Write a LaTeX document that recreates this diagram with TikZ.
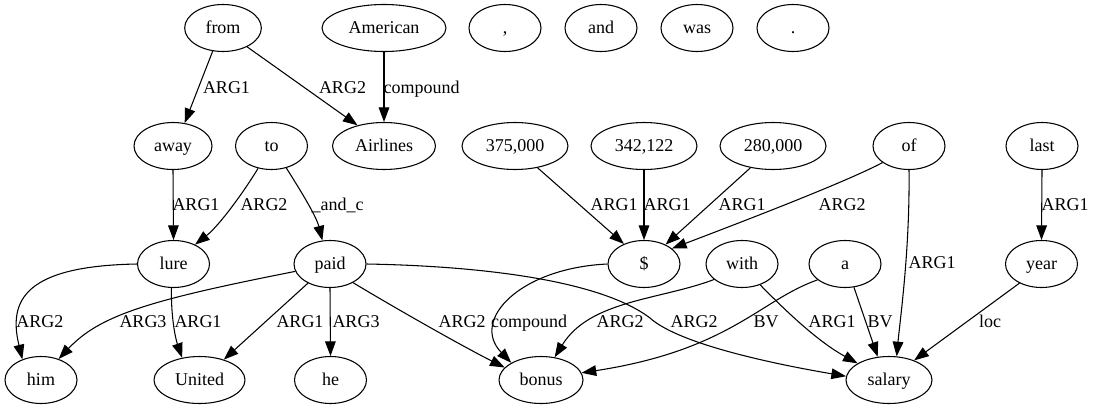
\documentclass[tikz,border=0pt]{standalone}
\usepackage{fontspec}
\setmainfont{Liberation Serif}
\newfontfamily\gvserif{Liberation Serif}
\usetikzlibrary{arrows.meta,shapes.geometric}
\begin{document}
\begin{tikzpicture}[x=0.75pt,y=-0.75pt,
  nd/.style={draw, ellipse, line width=0.8pt, inner sep=0pt, minimum height=35.25pt, minimum width=54pt,
    font=\gvserif\fontsize{13.5}{16}\selectfont, text height=11pt, text depth=3pt},
  lbl/.style={inner sep=0pt, font=\gvserif\fontsize{13.5}{16}\selectfont, text height=11pt, text depth=3pt},
  edge/.style={draw, line width=0.8pt, -{Triangle[length=11pt,width=8pt]}}
]
\useasboundingbox (0,0) rectangle (1095,411);
% row 1
\node[nd, minimum width=57.5pt] (from) at (223,28) {from};
\node[nd, minimum width=93pt] (American) at (384,28) {American};
\node[nd] (comma) at (505,28) {,};
\node[nd] (and) at (601,28) {and};
\node[nd] (was) at (697,28) {was};
\node[nd] (period) at (793,28) {.};
% row 2
\node[nd, minimum width=58.5pt] (away) at (173,146) {away};
\node[nd] (to) at (271.5,146) {to};
\node[nd, minimum width=77.25pt] (Airlines) at (384,146) {Airlines};
\node[nd, minimum width=79.5pt] (n375) at (515,146) {375,000};
\node[nd, minimum width=79.5pt] (n342) at (644,146) {342,122};
\node[nd, minimum width=79.5pt] (n280) at (773,146) {280,000};
\node[nd] (of) at (909,146) {of};
\node[nd] (last) at (1042,146) {last};
% row 3
\node[nd] (lure) at (173.5,264) {lure};
\node[nd] (paid) at (330,264) {paid};
\node[nd] (dollar) at (644,264) {\$};
\node[nd] (with) at (742,264) {with};
\node[nd] (a) at (845,264) {a};
\node[nd] (year) at (1041.5,264) {year};
% row 4
\node[nd] (him) at (41,380) {him};
\node[nd, minimum width=68.25pt] (United) at (199.5,380) {United};
\node[nd] (he) at (330.5,380) {he};
\node[nd, minimum width=63pt] (bonus) at (541,380) {bonus};
\node[nd, minimum width=64.5pt] (salary) at (889,380) {salary};

% edges
\draw[edge] (from.246) -- (away.63);
\draw[edge] (from.322) -- (Airlines.142);
\draw[edge] (American.south) -- (Airlines.north);
\draw[edge] (away.south) -- (lure.north);
\draw[edge] (to.239) .. controls (245,190) and (220,225) .. (lure.42);
\draw[edge] (to.304) .. controls (297,185) and (316,215) .. (paid.108);
\draw[edge] (lure.180) .. controls (25,266) and (8,300) .. (him.132);
\draw[edge] (lure.265) .. controls (171,320) and (176,340) .. (United.128);
\draw[edge] (paid.192) .. controls (150,300) and (100,315) .. (him.50);
\draw[edge] (paid.221) -- (United.40);
\draw[edge] (paid.south) -- (he.north);
\draw[edge] (paid.321) .. controls (390,305) and (460,345) .. (bonus.161);
\draw[edge] (paid.0) .. controls (480,266) and (600,280) .. (650,318) .. controls (680,345) and (780,365) .. (salary.175);
\draw[edge] (dollar.180) .. controls (520,268) and (470,320) .. (bonus.150);
\draw[edge] (with.209) .. controls (660,300) and (590,300) .. (bonus.59);
\draw[edge] (of.212) .. controls (850,180) and (760,215) .. (dollar.29);
\draw[edge] (n375.316) -- (dollar.135);
\draw[edge] (n342.south) -- (dollar.north);
\draw[edge] (n280.224) -- (dollar.42);
\draw[edge] (of.south) .. controls (910,250) and (900,320) .. (salary.72);
\draw[edge] (with.311) .. controls (780,305) and (815,340) .. (salary.152);
\draw[edge] (a.291) -- (salary.116);
\draw[edge] (a.210) .. controls (760,300) and (730,350) .. (bonus.10);
\draw[edge] (year.221) -- (salary.38);
\draw[edge] (last.south) -- (year.north);

% labels
\node[lbl] (l1) at (226.5,88) {ARG1};
\node[lbl] (l2) at (342.5,88) {ARG2};
\node[lbl] (l3) at (421.5,88) {compound};
\node[lbl] (l4) at (196,205) {ARG1};
\node[lbl] (l5) at (264,205) {ARG2};
\node[lbl] (l6) at (337.5,205) {\_and\_c};
\node[lbl] (l7) at (614,205) {ARG1};
\node[lbl] (l8) at (667,205) {ARG1};
\node[lbl] (l9) at (742,205) {ARG1};
\node[lbl] (l10) at (842,205) {ARG2};
\node[lbl] (l11) at (1065,205) {ARG1};
\node[lbl] (l12) at (932,263) {ARG1};
\node[lbl] (l13) at (40,322) {ARG2};
\node[lbl] (l14) at (143,322) {ARG3};
\node[lbl] (l15) at (198,322) {ARG1};
\node[lbl] (l16) at (300,322) {ARG1};
\node[lbl] (l17) at (356,322) {ARG3};
\node[lbl] (l18) at (462,322) {ARG2};
\node[lbl] (l19) at (529,322) {compound};
\node[lbl] (l20) at (620,322) {ARG2};
\node[lbl] (l21) at (694,322) {ARG2};
\node[lbl] (l22) at (766,322) {BV};
\node[lbl] (l23) at (832,322) {ARG1};
\node[lbl] (l24) at (880,322) {BV};
\node[lbl] (l25) at (990,322) {loc};
\end{tikzpicture}
\end{document}
